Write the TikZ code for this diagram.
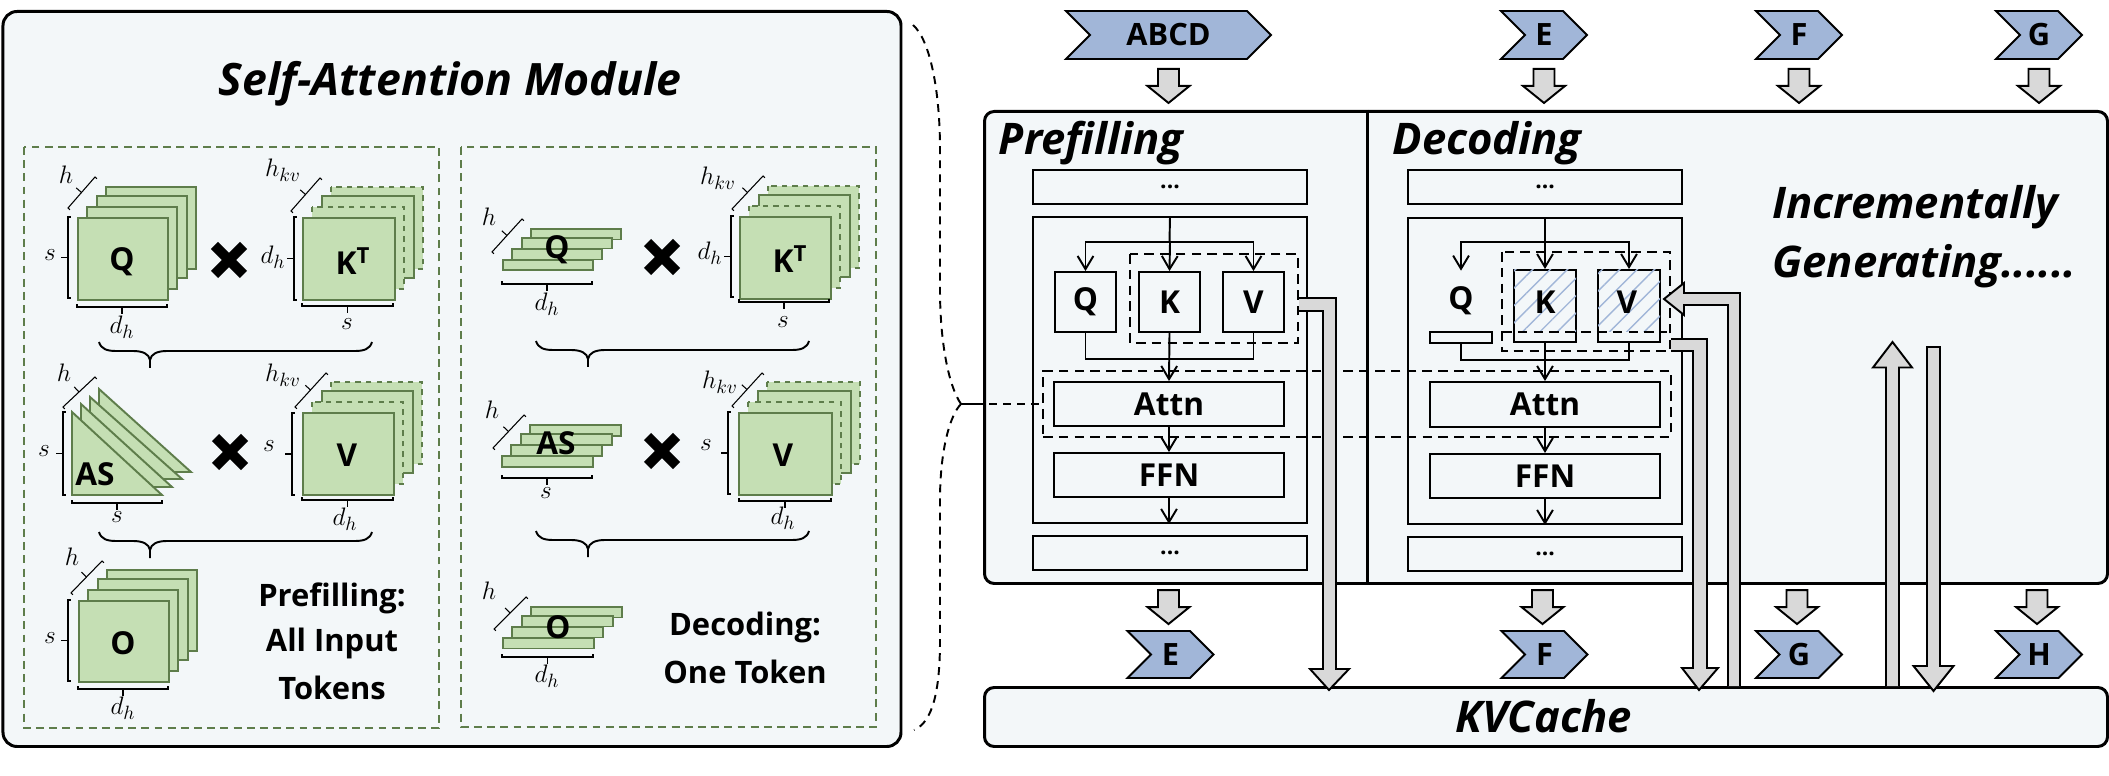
\documentclass[tikz,border=0pt]{standalone}
\usepackage{fontspec}
\setmainfont{Open Sans}
\usetikzlibrary{calc,arrows.meta,patterns.meta,shapes.symbols}

\definecolor{panelbg}{HTML}{F3F7F9}
\definecolor{sheetfill}{HTML}{C5DFB4}
\definecolor{sheetline}{HTML}{5E7D4B}
\definecolor{tagblue}{HTML}{A1B6D8}
\definecolor{arrowgray}{HTML}{D9D9D9}

\def\pxu{0.02cm}

\tikzset{
	wh/.style 2 args={minimum width=#1*\pxu,minimum height=#2*\pxu},
	panel/.style={draw,fill=panelbg,line width=1.7pt,rounded corners=5.5pt,inner sep=0pt},
	group/.style={draw=sheetline,dash pattern=on 4.5pt off 3pt,line width=1.1pt},
	sheet/.style={draw=sheetline,fill=sheetfill,line width=1.1pt,inner sep=0pt},
	block/.style={draw,line width=1.1pt,inner sep=0pt},
	scopebox/.style={draw,line width=1.1pt,dash pattern=on 5.5pt off 3.5pt},
	linkdash/.style={line width=1.1pt,dash pattern=on 4.5pt off 3.5pt},
	flow/.style={line width=1.1pt,-{Straight Barb[length=7.5pt,width=9pt]}},
	wire/.style={line width=1.1pt},
	dimline/.style={line width=.6pt},
	mergeline/.style={line width=1.1pt},
	blockshape/.style={draw,fill=arrowgray,line width=1.1pt,miter limit=10},
	tag/.style={signal,signal to=east,signal from=west,signal pointer angle=90,draw,fill=tagblue,line width=1.1pt,inner sep=0pt,font=\fontsize{17.5}{20}\selectfont\bfseries},
	name text/.style={font=\fontsize{18}{20}\selectfont\bfseries,inner sep=0pt},
	note text/.style={font=\fontsize{17.6}{20}\selectfont\bfseries,inner sep=0pt},
	head text/.style={font=\fontsize{24.8}{28}\selectfont\bfseries\itshape,inner sep=0pt},
	dim text/.style={font=\fontsize{15}{17}\selectfont,inner sep=0pt},
	dots text/.style={font=\fontsize{13}{15}\selectfont\bfseries},
}

\newcommand{\sheetstack}[6]{
	\draw[sheet,#5] ({#1+29},{-(#2)+30}) rectangle ({#1+29+#3},{-(#2)+30-#4});
	\draw[sheet] ({#1+20},{-(#2)+21}) rectangle ({#1+20+#3},{-(#2)+21-#4});
	\draw[sheet,#5] ({#1+10},{-(#2)+10}) rectangle ({#1+10+#3},{-(#2)+10-#4});
	\node[sheet,wh={#3}{#4},anchor=north west] (#6) at (#1,-#2) {};
}
\newcommand{\dimbar}[2]{
	\coordinate (dima) at #1;
	\coordinate (dimb) at #2;
	\coordinate (dimm) at ($(dima)!.5!(dimb)$);
	\draw[dimline] ($(dima)!1.5pt!90:(dimb)$) -- (dima) -- (dimb) -- ($(dimb)!1.5pt!-90:(dima)$);
	\draw[dimline] (dimm) -- ($(dimm)!4pt!-90:(dimb)$);
}
\newcommand{\mergebrace}[4]{
	\draw[mergeline] (#1,-#4) .. controls ({#1+2},{-(#4)-7}) and ({#1+8},{-(#4)-9}) .. ({#1+17},{-(#4)-9}) -- ({#2-17},{-(#4)-9}) .. controls ({#2-7},{-(#4)-9}) and ({#2-1},{-(#4)-12}) .. (#2,{-(#4)-18}) -- (#2,{-(#4)-26});
	\draw[mergeline] (#2,{-(#4)-18}) .. controls ({#2+1},{-(#4)-12}) and ({#2+7},{-(#4)-9}) .. ({#2+17},{-(#4)-9}) -- ({#3-17},{-(#4)-9}) .. controls ({#3-8},{-(#4)-9}) and ({#3-2},{-(#4)-7}) .. (#3,-#4);
}
\newcommand{\timesmark}[2]{
	\draw[line width=5.7pt] ({#1-14.5},{-(#2)-14.5}) -- ({#1+14.5},{-(#2)+14.5});
	\draw[line width=5.7pt] ({#1-14.5},{-(#2)+14.5}) -- ({#1+14.5},{-(#2)-14.5});
}
\newcommand{\blockv}[6]{
	\draw[blockshape] ($(#1)+(-#3,0)$) -- ($(#2)+(-#3,#5)$) -- ($(#2)+(-#4,#5)$) -- (#2) -- ($(#2)+(#4,#5)$) -- ($(#2)+(#3,#5)$) -- ($(#1)+(#3,0)$) #6;
}
\newcommand{\tagdown}[2]{
	\coordinate (blocktop) at ($(#1)+(#2)$);
	\coordinate (blocktip) at ($(blocktop)+(0,-34)$);
	\blockv{blocktop}{blocktip}{10.5}{21}{17}{-- cycle}
}

\begin{document}
\begin{tikzpicture}[x=0.02cm,y=0.02cm]
	\useasboundingbox (0,0) rectangle (2109,-776);

	\node[panel,rounded corners=8pt,wh={898}{735},anchor=north west] (modpanel) at (1.5,-10) {};
	\node[head text,font=\fontsize{25.4}{28}\selectfont\bfseries\itshape] (modtitle) at (450,-84) {Self-Attention Module};
	\draw[group] (24,-147) rectangle (439,-728);
	\draw[group] (461,-147) rectangle (876,-727);

	\sheetstack{77}{217}{90}{82}{solid}{fullq}
	\node[name text] (fullqname) at (122,-262) {Q};
	\dimbar{(68,-217)}{(68,-298)}
	\dimbar{(77,-307)}{(167,-307)}
	\dimbar{(95,-177)}{(68,-208)}
	\node[dim text] at (50,-255) {$s$};
	\node[dim text] at (122,-327) {$d_h$};
	\node[dim text] at (66,-175) {$h$};
	\timesmark{229}{260}
	\sheetstack{302}{217}{92}{82}{dashed}{fullk}
	\node[name text] (fullkname) at (353,-261) {K\textsuperscript{T}};
	\dimbar{(294,-217)}{(294,-300)}
	\dimbar{(302,-306)}{(393,-306)}
	\dimbar{(320,-178)}{(291,-211)}
	\node[dim text] at (273,-257) {$d_h$};
	\node[dim text] at (347,-324) {$s$};
	\node[dim text] at (283,-170) {$h_{kv}$};
	\mergebrace{99}{150}{372}{342}

	\draw[sheet] (99,-389) -- (99,-472) -- (191,-472) -- cycle;
	\draw[sheet] (90,-397) -- (90,-479) -- (182,-479) -- cycle;
	\draw[sheet] (81,-404) -- (81,-487) -- (172,-487) -- cycle;
	\draw[sheet] (72,-412) -- (72,-495) -- (162,-495) -- cycle;
	\node[name text] (fullasname) at (95,-474) {AS};
	\dimbar{(63,-412)}{(63,-495)}
	\dimbar{(72,-503)}{(162,-503)}
	\dimbar{(95,-377)}{(63,-407)}
	\node[dim text] at (44,-451) {$s$};
	\node[dim text] at (117,-517) {$s$};
	\node[dim text] at (64,-373) {$h$};
	\timesmark{230}{452}
	\sheetstack{302}{412}{91}{82}{dashed}{fullv}
	\node[name text] (fullvname) at (347,-455) {V};
	\dimbar{(292,-413)}{(292,-495)}
	\dimbar{(302,-500)}{(393,-500)}
	\dimbar{(326,-373)}{(295,-407)}
	\node[dim text] at (269,-446) {$s$};
	\node[dim text] at (345,-519) {$d_h$};
	\node[dim text] at (283,-375) {$h_{kv}$};
	\mergebrace{99}{150}{372}{532}

	\sheetstack{78}{600}{90}{81}{solid}{fullo}
	\node[name text] (fulloname) at (123,-643) {O};
	\dimbar{(68,-600)}{(68,-681)}
	\dimbar{(78,-689)}{(168,-689)}
	\dimbar{(102,-561)}{(71,-593)}
	\node[dim text] at (50,-638) {$s$};
	\node[dim text] at (123,-708) {$d_h$};
	\node[dim text] at (72,-557) {$h$};
	\node[note text] (prefillnote) at (332,-598) {Prefilling:};
	\node[note text] (inputnote) at (332,-643) {All Input};
	\node[note text] (tokensnote) at (332,-688) {Tokens};

	\sheetstack{502}{259}{90}{10.5}{solid}{flatq}
	\node[name text] (flatqname) at (557,-250) {Q};
	\dimbar{(502,-284)}{(592,-284)}
	\dimbar{(522,-219)}{(492,-252)}
	\node[dim text] at (547,-304) {$d_h$};
	\node[dim text] at (489,-217) {$h$};
	\timesmark{662}{257}
	\sheetstack{739}{216}{91}{82}{dashed}{deck}
	\node[name text] (deckname) at (790,-259) {K\textsuperscript{T}};
	\dimbar{(731,-216)}{(731,-297)}
	\dimbar{(739,-302)}{(829,-302)}
	\dimbar{(763,-176)}{(732,-209)}
	\node[dim text] at (710,-253) {$d_h$};
	\node[dim text] at (783,-322) {$s$};
	\node[dim text] at (718,-178) {$h_{kv}$};
	\mergebrace{536}{588}{809}{341}

	\sheetstack{501}{455}{91}{11}{solid}{flatas}
	\node[name text] (flatasname) at (556,-443) {AS};
	\dimbar{(502,-478)}{(592,-478)}
	\dimbar{(524,-415)}{(493,-448)}
	\node[dim text] at (546,-493) {$s$};
	\node[dim text] at (492,-410) {$h$};
	\timesmark{662}{451}
	\sheetstack{738}{412}{93}{82}{dashed}{decv}
	\node[name text] (decvname) at (783,-455) {V};
	\dimbar{(728,-412)}{(728,-494)}
	\dimbar{(739,-501)}{(831,-501)}
	\dimbar{(762,-373)}{(732,-406)}
	\node[dim text] at (706,-445) {$s$};
	\node[dim text] at (783,-518) {$d_h$};
	\node[dim text] at (720,-382) {$h_{kv}$};
	\mergebrace{536}{588}{809}{531}

	\sheetstack{502}{637}{91}{10.5}{solid}{flato}
	\node[name text] (flatoname) at (558,-627) {O};
	\dimbar{(502,-657)}{(593,-657)}
	\dimbar{(526,-597)}{(494,-629)}
	\node[dim text] at (547,-676) {$d_h$};
	\node[dim text] at (489,-591) {$h$};
	\node[note text] (decodenote) at (745,-627) {Decoding:};
	\node[note text] (onenote) at (745,-672) {One Token};

	\node[panel,wh={1123}{472},anchor=north west] (runpanel) at (983,-110) {};
	\draw[line width=1.7pt] (runpanel.north west -| 1367,0) -- (runpanel.south west -| 1367,0);
	\node[panel,wh={1123}{59},anchor=north west] (cachepanel) at (983,-686) {};
	\node[head text] (prefilllabel) at (1091,-143) {Prefilling};
	\node[head text] (decodelabel) at (1487,-143) {Decoding};
	\node[head text] (cachelabel) at (1544,-716) {KVCache};
	\node[head text,anchor=west] (incrlabel) at (1772,-207) {Incrementally};
	\node[head text,anchor=west] (genlabel) at (1772,-266) {Generating......};

	\node[tag,wh={205}{48}] (tagabcd) at (1168.5,-35) {ABCD};
	\node[tag,wh={86}{48}] (tagine) at (1544,-35) {E};
	\node[tag,wh={86}{48}] (taginf) at (1799,-35) {F};
	\node[tag,wh={86}{48}] (taging) at (2039,-35) {G};
	\node[tag,wh={86}{47}] (tagoute) at (1170.5,-654.5) {E};
	\node[tag,wh={86}{47}] (tagoutf) at (1544.5,-654.5) {F};
	\node[tag,wh={86}{47}] (tagoutg) at (1799,-654.5) {G};
	\node[tag,wh={86}{47}] (tagouth) at (2039,-654.5) {H};

	\tagdown{tagabcd.south}{0,-9}
	\tagdown{tagine.south}{0,-9}
	\tagdown{taginf.south}{0,-9}
	\tagdown{taging.south}{0,-9}
	\tagdown{tagoute.north}{-2,40}
	\tagdown{tagoutf.north}{-2,40}
	\tagdown{tagoutg.north}{-2,40}
	\tagdown{tagouth.north}{-2,40}

	\node[block,wh={274}{34},dots text] (ptop) at (1170,-187) {...};
	\node[block,wh={274}{306}] (pmain) at (1170,-370) {};
	\node[block,wh={274}{34},dots text] (pend) at (1170,-553) {...};
	\node[block,wh={61}{60},name text] (pq) at (1085.5,-302) {Q};
	\node[block,wh={61}{60},name text] (pk) at (1169.5,-302) {K};
	\node[block,wh={61}{60},name text] (pv) at (1253.5,-302) {V};
	\node[block,wh={230}{44},name text] (pattn) at (1169,-404) {Attn};
	\node[block,wh={230}{44},name text] (pffn) at (1169,-475) {FFN};
	\coordinate (pbranch) at (1169.5,-242);
	\coordinate (pmerge) at (1169.5,-359);
	\draw[flow] (pbranch -| pmain.north) -- (pk.north);
	\draw[wire] (pmain.north) -- (pbranch);
	\draw[flow] (pbranch) -| (pq.north);
	\draw[flow] (pbranch) -| (pv.north);
	\draw[wire] (pq.south) |- (pmerge);
	\draw[wire] (pv.south) |- (pmerge);
	\draw[flow] (pk.south) -- (pattn.north);
	\draw[flow] (pattn.south) -- (pffn.north);
	\draw[flow] (pffn.south) -- (pmain.south -| pffn.south);
	\draw[scopebox] (1130,-254) rectangle (1298,-343);

	\node[block,wh={274}{34},dots text] (dtop) at (1545,-187) {...};
	\node[block,wh={274}{306}] (dmain) at (1545,-371) {};
	\node[block,wh={274}{34},dots text] (dend) at (1545,-554) {...};
	\node[wh={62}{60},name text] (dq) at (1461,-301) {Q};
	\node[block,wh={62}{11}] (dqbar) at (1461,-337.5) {};
	\node[block,wh={62}{72}] (dk) at (1545,-306) {};
	\node[block,wh={62}{72}] (dv) at (1629,-306) {};
	\path[pattern={Lines[angle=45,distance=7pt,line width=.8pt]},pattern color=tagblue] (1514,-270) rectangle (1576,-332);
	\path[pattern={Lines[angle=45,distance=7pt,line width=.8pt]},pattern color=tagblue] (1598,-270) rectangle (1660,-332);
	\node[name text] (dkname) at (1545,-302) {K};
	\node[name text] (dvname) at (1627,-302) {V};
	\node[block,wh={230}{45},name text] (dattn) at (1545,-404.5) {Attn};
	\node[block,wh={230}{44},name text] (dffn) at (1545,-476) {FFN};
	\coordinate (dbranch) at (1545,-242);
	\coordinate (dmerge) at (1545,-360);
	\draw[flow] (dmain.north) -- (dk.north);
	\draw[flow] (dbranch) -| (dq.north);
	\draw[flow] (dbranch) -| (dv.north);
	\draw[wire] (dqbar.south) |- (dmerge);
	\draw[wire] (dv.south) |- (dmerge);
	\draw[flow] (dk.south) -- (dattn.north);
	\draw[flow] (dattn.south) -- (dffn.north);
	\draw[flow] (dffn.south) -- (dmain.south);
	\draw[scopebox] (1502,-252) rectangle (1670,-351);
	\draw[scopebox] (1502,-332) -- (1667,-332);

	\node[scopebox,wh={628}{66},inner sep=0pt] (attnscope) at (1357,-404) {};
	\coordinate (bracetip) at (961,-404);
	\draw[wire] (bracetip) -- (975,-404);
	\draw[linkdash] (975,-404) -- (attnscope.west);
	\draw[linkdash] (913,-25) .. controls (930,-40) and (940,-90) .. (940,-150) -- (940,-290) .. controls (940,-340) and (948,-385) .. (bracetip);
	\draw[linkdash] (bracetip) .. controls (950,-415) and (940,-450) .. (940,-500) -- (940,-640) .. controls (940,-690) and (933,-722) .. (914,-730);

	\draw[blockshape] (1299,-298) -- (1336,-298) -- (1336,-669) -- (1349,-669) -- (1329,-690) -- (1310,-669) -- (1323,-669) -- (1323,-311) -- (1299,-311);
	\draw[blockshape] (1671,-339) -- (1707,-339) -- (1707,-668) -- (1718,-668) -- (1699,-690) -- (1682,-668) -- (1693,-668) -- (1693,-351) -- (1671,-351);
	\draw[blockshape] (1728,-686) -- (1728,-305) -- (1684,-305) -- (1684,-315) -- (1664,-299) -- (1684,-283) -- (1684,-293) -- (1740,-293) -- (1740,-686);
	\coordinate (riseend) at (1892.5,-686);
	\coordinate (risetip) at (1892.5,-342);
	\blockv{riseend}{risetip}{6.5}{19.5}{-25.5}{}
	\coordinate (fallstart) at (1933.5,-347);
	\coordinate (falltip) at (1933.5,-691);
	\blockv{fallstart}{falltip}{6.5}{20}{25}{-- cycle}
\end{tikzpicture}
\end{document}
